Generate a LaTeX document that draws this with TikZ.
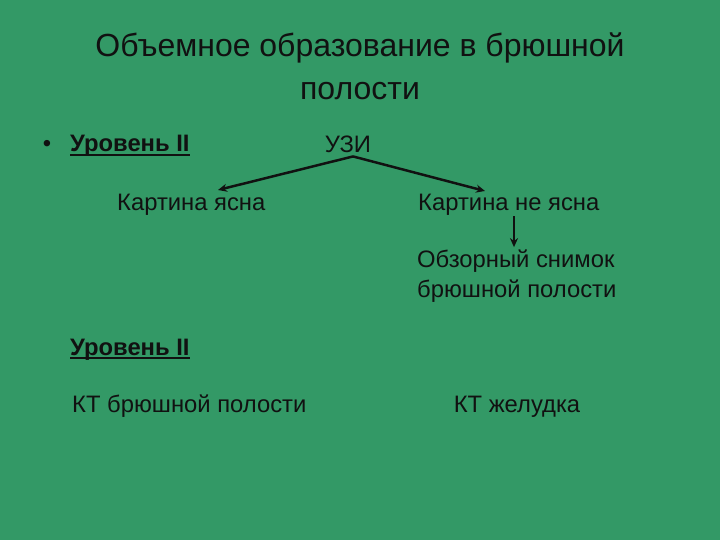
\documentclass[tikz,border=0pt]{standalone}
\usepackage{fontspec}
\usetikzlibrary{arrows.meta}
\setmainfont{Liberation Sans}
\definecolor{slidegreen}{RGB}{51,153,102}
\definecolor{ink}{RGB}{17,17,17}
\begin{document}
\begin{tikzpicture}[>={Stealth[length=9bp,width=8bp]},x=1bp,y=-1bp,every node/.style={inner sep=0pt,text=ink,font=\fontsize{23.8bp}{28bp}\selectfont}]
		\fill[slidegreen] (0,0) rectangle (720,540);
		\useasboundingbox (0,0) rectangle (720,540);
		\node[anchor=base,font=\fontsize{32bp}{40bp}\selectfont] (title1) at (360,57) {Объемное образование в брюшной};
		\node[anchor=base,font=\fontsize{32bp}{40bp}\selectfont] (title2) at (360,100) {полости};
		\node[anchor=base] (dot) at (47,152) {•};
		\node[anchor=base west] (level1) at (70,152) {\textbf{Уровень II}};
		\node[anchor=base] (uzi) at (348,153) {УЗИ};
		\node[anchor=base west] (clear) at (117,211) {Картина ясна};
		\node[anchor=base west] (unclear) at (418,211) {Картина не ясна};
		\node[anchor=base west] (xray1) at (417,268) {Обзорный снимок};
		\node[anchor=base west] (xray2) at (417,297) {брюшной полости};
		\node[anchor=base west] (level2) at (70,355) {\textbf{Уровень II}};
		\node[anchor=base west] (ctabd) at (72,412) {КТ брюшной полости};
		\node[anchor=base] (ctstom) at (517,412) {КТ желудка};
		\draw[line width=1.8pt,ink] ([yshift=-3bp]level1.base west) -- ([yshift=-3bp]level1.base east);
		\draw[line width=1.8pt,ink] ([yshift=-3bp]level2.base west) -- ([yshift=-3bp]level2.base east);
		\coordinate (tipl) at (218,190);
		\coordinate (tipr) at (485,191);
		\coordinate (drop) at (514,0);
		\draw[->,line width=2.5pt,ink] ([xshift=5bp,yshift=-3bp]uzi.south) -- (tipl);
		\draw[->,line width=2.5pt,ink] ([xshift=5bp,yshift=-3bp]uzi.south) -- (tipr);
		\draw[->,line width=2.5pt,ink] (unclear.south -| drop) -- ([yshift=3bp]xray1.north -| drop);
\end{tikzpicture}
\end{document}
